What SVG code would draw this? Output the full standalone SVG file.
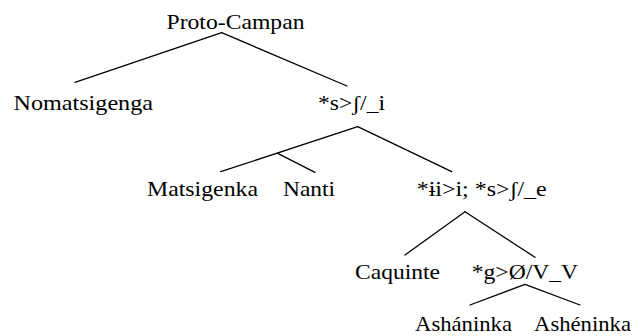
<svg xmlns="http://www.w3.org/2000/svg" width="635" height="336" viewBox="0 0 635 336">
  <style>
    .edge { stroke: #000; stroke-width: 1.3; fill: none; stroke-linecap: round; }
    .lbl { font-family: "Liberation Serif", Tinos, "Times New Roman", Times, "Nimbus Roman", FreeSerif, "Noto Serif", "DejaVu Serif", serif; font-size: 22px; fill: #000; }
  </style>
  <rect width="635" height="336" fill="#fff"/>
  <!-- tree branches -->
  <g id="edges">
    <line class="edge" x1="221.7" y1="32.7" x2="75" y2="82.3"/>
    <line class="edge" x1="221.7" y1="32.7" x2="347" y2="86"/>
    <line class="edge" x1="357.7" y1="126.7" x2="220.7" y2="171.7"/>
    <line class="edge" x1="357.7" y1="126.7" x2="451.7" y2="171.7"/>
    <line class="edge" x1="277.7" y1="153.3" x2="315" y2="172.3"/>
    <line class="edge" x1="465" y1="211.7" x2="405" y2="255"/>
    <line class="edge" x1="465" y1="211.7" x2="535" y2="257.3"/>
    <line class="edge" x1="525" y1="284.3" x2="470" y2="305"/>
    <line class="edge" x1="525" y1="284.3" x2="580" y2="305"/>
  </g>
  <!-- node labels -->
  <g id="proto-campan"><text class="lbl" x="166.5" y="28.5" textLength="138" lengthAdjust="spacingAndGlyphs">Proto-Campan</text></g>
  <g id="nomatsigenga"><text class="lbl" x="13.5" y="110" textLength="139.5" lengthAdjust="spacingAndGlyphs">Nomatsigenga</text></g>
  <g id="s-shift-i"><text class="lbl" x="318" y="110" textLength="67" lengthAdjust="spacingAndGlyphs">*s&gt;ʃ/_i</text></g>
  <g id="matsigenka"><text class="lbl" x="147" y="195.5" textLength="111" lengthAdjust="spacingAndGlyphs">Matsigenka</text></g>
  <g id="nanti"><text class="lbl" x="283" y="195.5" textLength="52" lengthAdjust="spacingAndGlyphs">Nanti</text></g>
  <g id="ii-shift"><text class="lbl" x="416.7" y="195.5" textLength="130" lengthAdjust="spacingAndGlyphs">*ɨi&gt;i; *s&gt;ʃ/_e</text></g>
  <g id="caquinte"><text class="lbl" x="355" y="279" textLength="85" lengthAdjust="spacingAndGlyphs">Caquinte</text></g>
  <g id="g-loss"><text class="lbl" x="471.7" y="279" textLength="106.5" lengthAdjust="spacingAndGlyphs">*g&gt;Ø/V_V</text></g>
  <g id="ashaninka"><text class="lbl" x="415" y="330.5" textLength="97" lengthAdjust="spacingAndGlyphs">Asháninka</text></g>
  <g id="asheninka"><text class="lbl" x="534" y="330.5" textLength="97" lengthAdjust="spacingAndGlyphs">Ashéninka</text></g>
</svg>
